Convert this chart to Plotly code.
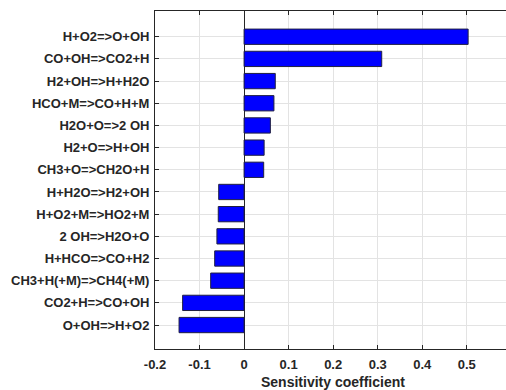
import plotly.graph_objects as go

reactions = [
    "H+O2=>O+OH", "CO+OH=>CO2+H", "H2+OH=>H+H2O", "HCO+M=>CO+H+M",
    "H2O+O=>2 OH", "H2+O=>H+OH", "CH3+O=>CH2O+H", "H+H2O=>H2+OH",
    "H+O2+M=>HO2+M", "2 OH=>H2O+O", "H+HCO=>CO+H2", "CH3+H(+M)=>CH4(+M)",
    "CO2+H=>CO+OH", "O+OH=>H+O2",
]
sensitivity = [0.503, 0.309, 0.070, 0.067, 0.059, 0.045, 0.044, -0.057,
               -0.058, -0.061, -0.066, -0.075, -0.138, -0.146]
x_tickvals = [-0.2, -0.1, 0, 0.1, 0.2, 0.3, 0.4, 0.5]
x_ticktext = ["-0.2", "-0.1", "0", "0.1", "0.2", "0.3", "0.4", "0.5"]

FONT = "Liberation Sans, Arial, sans-serif"
AX = "#262626"
GRID = "#e3e3e3"

fig = go.Figure(go.Bar(
    x=sensitivity, y=reactions, orientation="h",
    width=0.69,
    marker=dict(color="#0000ff", line=dict(color="#202040", width=1)),
))

fig.update_layout(
    width=506, height=390,
    autosize=False,
    margin=dict(l=155, r=0, t=11, b=41, pad=0),
    plot_bgcolor="white", paper_bgcolor="white",
    showlegend=False,
    font=dict(family=FONT, color=AX),
    xaxis=dict(
        automargin=False,
        range=[-0.2, 0.588],
        tickvals=x_tickvals, ticktext=x_ticktext,
        ticks="inside", ticklen=4, tickcolor=AX,
        showline=True, linecolor=AX, linewidth=1, mirror="allticks",
        showgrid=True, gridcolor=GRID, gridwidth=1,
        zeroline=True, zerolinecolor=AX, zerolinewidth=1,
        tickfont=dict(family=FONT, size=13, color=AX, weight="bold"),
        ticklabelstandoff=3,
    ),
    yaxis=dict(
        automargin=False,
        categoryorder="array", categoryarray=reactions,
        autorange=False, range=[14.08, -1.16],
        ticks="inside", ticklen=4, tickcolor=AX,
        showline=True, linecolor=AX, linewidth=1, mirror=False,
        showgrid=True, gridcolor=GRID, gridwidth=1,
        tickfont=dict(family=FONT, size=13, color=AX, weight="bold"),
        ticklabelstandoff=2,
    ),
    annotations=[dict(
        text="Sensitivity coefficient", xref="paper", yref="paper",
        x=0.507, y=-0.097, xanchor="center", yanchor="middle",
        showarrow=False,
        font=dict(family=FONT, size=14, color=AX, weight="bold"),
    )],
)

fig.write_html(
    "out.html",
    config={"displayModeBar": False},
    post_script="document.body.style.margin='0';document.body.style.padding='0';document.body.style.overflow='hidden';",
)
